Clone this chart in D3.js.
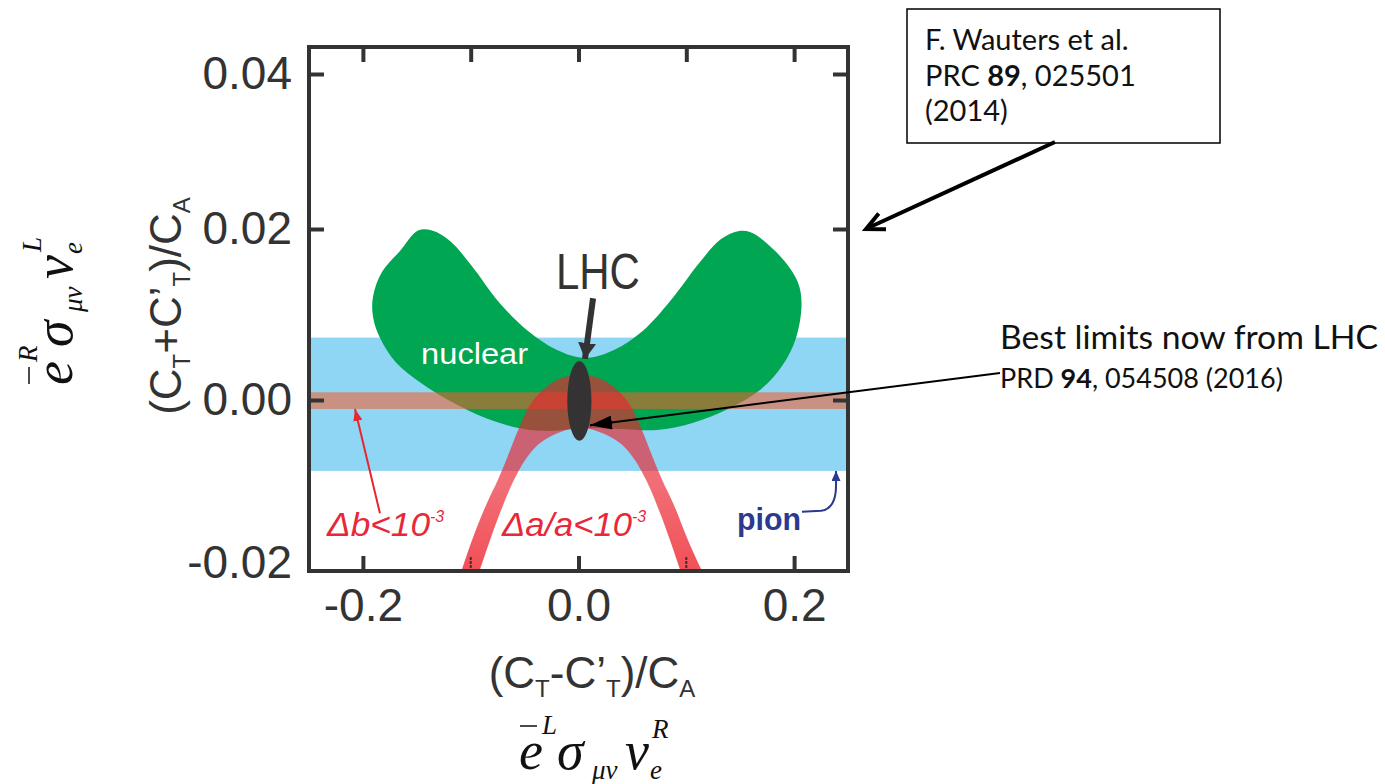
<!DOCTYPE html>
<html>
<head>
<meta charset="utf-8">
<script src="https://cdn.jsdelivr.net/npm/d3@7"></script>
<style>
  body { margin: 0; background: #fff; }
  svg { display: block; }
</style>
</head>
<body>
<svg id="chart" width="1385" height="784"></svg>
<script>
// ---- values ----
const xTickValues = [-0.2, 0.0, 0.2];
const xFrameTicks = [-0.2, -0.1, 0.0, 0.1, 0.2];
const yTickValues = [0.04, 0.02, 0.00, -0.02];
const yFrameTicks = [0.04, 0.02, 0.00];

// pion band and Delta b band (y ranges, full width)
const pionBand = [-0.0087, 0.0073];
const bBand = [-0.0011, 0.0009];

// "nuclear" allowed region outline [x, y]
const nuclear = [
  [-0.1906, 0.01211], [-0.1906, 0.00971], [-0.1841, 0.00725], [-0.1693, 0.00439],
  [-0.1461, 0.00199], [-0.1192, -0.00012], [-0.0863, -0.00221], [-0.0533, -0.0035],
  [-0.0264, -0.0038], [0.0065, -0.00344], [0.0394, -0.00356], [0.0728, -0.00368],
  [0.1058, -0.00282], [0.1387, -0.0011], [0.1684, 0.00117], [0.1888, 0.00398],
  [0.2018, 0.00725], [0.2069, 0.01129], [0.2036, 0.01373], [0.1916, 0.01616],
  [0.1721, 0.0186], [0.1591, 0.01965], [0.1489, 0.01977], [0.1322, 0.01883],
  [0.1127, 0.01614], [0.0858, 0.0117], [0.0595, 0.00807], [0.0329, 0.00585],
  [0.0065, 0.00491], [-0.0199, 0.00585], [-0.0468, 0.00807], [-0.0728, 0.01129],
  [-0.0997, 0.01579], [-0.1192, 0.0186], [-0.1359, 0.01982], [-0.1489, 0.01982],
  [-0.1656, 0.01743], [-0.1823, 0.01497]
];

// Delta a / a band: outer and inner edges [x, y]
const aOuter = [
  [-0.1099, -0.0215], [-0.0988, -0.0172], [-0.0858, -0.0129], [-0.0747, -0.0098],
  [-0.0654, -0.0068], [-0.0561, -0.0037], [-0.045, -0.0006], [-0.0311, 0.0014],
  [-0.0153, 0.0026], [0.0014, 0.0029], [0.0181, 0.0026], [0.0339, 0.0014],
  [0.0478, -0.0006], [0.0589, -0.0037], [0.0682, -0.0068], [0.0775, -0.0098],
  [0.0886, -0.0129], [0.1016, -0.0172], [0.1164, -0.0215]
];
const aInner = [
  [-0.0932, -0.0215], [-0.0821, -0.0172], [-0.07, -0.0129], [-0.0598, -0.0098],
  [-0.0496, -0.0074], [-0.0376, -0.0055], [-0.0218, -0.0042], [0.0014, -0.0034],
  [0.0246, -0.0042], [0.0404, -0.0055], [0.0524, -0.0074], [0.0626, -0.0098],
  [0.0728, -0.0129], [0.0849, -0.0172], [0.096, -0.0215]
];

// LHC ellipse: centre and half widths
const lhc = { cx: 0.0008, cy: -0.0001, rx: 0.0112, ry: 0.0049 };

// ---- layout ----
const svg = d3.select("#chart");
const frame = { left: 309, right: 848, top: 47, bottom: 571 };
const ink = "#333";
const sans = "'Liberation Sans', Arial, Helvetica, sans-serif";
const serif = "'Liberation Serif', 'Times New Roman', serif";
const office = "Lato, 'Open Sans', sans-serif";

const x = d3.scaleLinear().domain([-0.25, 0.25]).range([frame.left, frame.right]);
// the printed axis is not quite uniform, so use a piecewise scale through the ticks
const y = d3.scaleLinear().domain([-0.02, 0, 0.02, 0.04]).range([563, 400, 229, 74]);

const defs = svg.append("defs");
defs.append("clipPath").attr("id", "plotClip")
  .append("rect")
  .attr("x", frame.left).attr("y", frame.top)
  .attr("width", frame.right - frame.left).attr("height", frame.bottom - frame.top);

const grad = defs.append("linearGradient").attr("id", "redGrad")
  .attr("x1", 0).attr("y1", 0).attr("x2", 0).attr("y2", 1);
grad.append("stop").attr("offset", "0%").attr("stop-color", "rgb(235,35,47)").attr("stop-opacity", 0.64);
grad.append("stop").attr("offset", "55%").attr("stop-color", "rgb(235,35,47)").attr("stop-opacity", 0.66);
grad.append("stop").attr("offset", "100%").attr("stop-color", "rgb(238,40,48)").attr("stop-opacity", 0.82);

function arrowMarker(id, color, len, wid) {
  defs.append("marker").attr("id", id)
    .attr("markerUnits", "userSpaceOnUse")
    .attr("viewBox", `0 ${-wid / 2} ${len} ${wid}`)
    .attr("refX", len).attr("refY", 0)
    .attr("markerWidth", len).attr("markerHeight", wid)
    .attr("orient", "auto")
    .append("path")
    .attr("d", `M0,${-wid / 2}L${len},0L0,${wid / 2}Z`)
    .attr("fill", color);
}
arrowMarker("headDark", ink, 16, 18);
arrowMarker("headBlack", "#000", 22, 14);
arrowMarker("headRed", "#e8262e", 12, 9);
arrowMarker("headNavy", "#2b3990", 10, 9);

const plot = svg.append("g").attr("clip-path", "url(#plotClip)");

// pion band
plot.append("rect")
  .attr("x", x(-0.25)).attr("width", x(0.25) - x(-0.25))
  .attr("y", y(pionBand[1])).attr("height", y(pionBand[0]) - y(pionBand[1]))
  .attr("fill", "#8fd6f4");

// nuclear region
const smooth = d3.line().x(d => x(d[0])).y(d => y(d[1]));
plot.append("path")
  .attr("d", smooth.curve(d3.curveCatmullRomClosed.alpha(0.5))(nuclear))
  .attr("fill", "#00a651");

// Delta b band
plot.append("rect")
  .attr("x", x(-0.25)).attr("width", x(0.25) - x(-0.25))
  .attr("y", y(bBand[1])).attr("height", y(bBand[0]) - y(bBand[1]))
  .attr("fill", "rgb(242,94,42)").attr("fill-opacity", 0.57);

// Delta a / a arch
const edge = d3.line().x(d => x(d[0])).y(d => y(d[1])).curve(d3.curveCatmullRom.alpha(0.5));
const archPath = edge(aOuter) + "L" + edge(aInner.slice().reverse()).slice(1) + "Z";
plot.append("path").attr("d", archPath).attr("fill", "url(#redGrad)");

// LHC ellipse
plot.append("ellipse")
  .attr("cx", x(lhc.cx)).attr("cy", y(lhc.cy))
  .attr("rx", x(lhc.cx + lhc.rx) - x(lhc.cx))
  .attr("ry", y(lhc.cy - lhc.ry) - y(lhc.cy))
  .attr("fill", "#353233");

// ---- frame and axes ----
svg.append("rect")
  .attr("x", frame.left).attr("y", frame.top)
  .attr("width", frame.right - frame.left).attr("height", frame.bottom - frame.top)
  .attr("fill", "none").attr("stroke", ink).attr("stroke-width", 4);

function styleAxis(g) {
  g.select(".domain").remove();
  g.selectAll(".tick line").attr("stroke", ink).attr("stroke-width", 4);
  g.selectAll(".tick text")
    .attr("fill", ink).attr("font-family", sans).attr("font-size", 46);
}

svg.append("g").attr("transform", `translate(${frame.left},0)`)
  .call(d3.axisLeft(y).tickValues(yTickValues).tickSize(-15).tickPadding(17)
    .tickFormat(d => d.toFixed(2)))
  .call(styleAxis)
  .call(g => g.selectAll(".tick").filter(d => d === -0.02).select("line").remove());

svg.append("g").attr("transform", `translate(${frame.right},0)`)
  .call(d3.axisRight(y).tickValues(yFrameTicks).tickSize(-15).tickFormat(""))
  .call(styleAxis);

svg.append("g").attr("transform", `translate(0,${frame.top})`)
  .call(d3.axisTop(x).tickValues(xFrameTicks).tickSize(-15).tickFormat(""))
  .call(styleAxis);

svg.append("g").attr("transform", `translate(0,${frame.bottom})`)
  .call(d3.axisBottom(x).tickValues(xTickValues).tickSize(-15).tickPadding(17)
    .tickFormat(d => d.toFixed(1)))
  .call(styleAxis);

// small marks at +-0.1 on the bottom edge
svg.append("g").selectAll("line").data([-0.1, 0.1]).join("line")
  .attr("x1", d => x(d)).attr("x2", d => x(d))
  .attr("y1", frame.bottom - 14).attr("y2", frame.bottom)
  .attr("stroke", ink).attr("stroke-width", 2).attr("stroke-dasharray", "3,1");

// ---- labels inside the plot ----
svg.append("text")
  .attr("x", x(0.018)).attr("y", y(0.013))
  .attr("text-anchor", "middle").attr("font-family", sans).attr("font-size", 50)
  .attr("textLength", 84).attr("lengthAdjust", "spacingAndGlyphs")
  .attr("fill", ink).text("LHC");

svg.append("line")
  .attr("x1", x(0.0135)).attr("y1", y(0.0119))
  .attr("x2", x(0.006)).attr("y2", y(0.0048))
  .attr("stroke", ink).attr("stroke-width", 6).attr("marker-end", "url(#headDark)");

svg.append("text")
  .attr("x", x(-0.146)).attr("y", y(0.0042))
  .attr("font-family", sans).attr("font-size", 29)
  .attr("textLength", 107).attr("lengthAdjust", "spacingAndGlyphs")
  .attr("fill", "#fff").text("nuclear");

function powerLabel(px, py, base, width) {
  const t = svg.append("text")
    .attr("x", px).attr("y", py)
    .attr("font-family", sans).attr("font-size", 33).attr("font-style", "italic")
    .attr("fill", "#e8283a");
  t.append("tspan").attr("textLength", width).attr("lengthAdjust", "spacingAndGlyphs").text(base);
  t.append("tspan").attr("dy", -14).attr("font-size", 16).text("-3");
  return t;
}
powerLabel(x(-0.2333), y(-0.0167), "Δb<10", 103);
powerLabel(x(-0.071), y(-0.0167), "Δa/a<10", 130);

svg.append("line")
  .attr("x1", x(-0.1842)).attr("y1", y(-0.0139))
  .attr("x2", x(-0.2073)).attr("y2", y(-0.0011))
  .attr("stroke", "#e8262e").attr("stroke-width", 2).attr("marker-end", "url(#headRed)");

svg.append("text")
  .attr("x", x(0.147)).attr("y", y(-0.016))
  .attr("font-family", sans).attr("font-size", 31).attr("font-weight", "bold")
  .attr("textLength", 64).attr("lengthAdjust", "spacingAndGlyphs")
  .attr("fill", "#2b3990").text("pion");

const pionArrow = d3.path();
pionArrow.moveTo(x(0.2073), y(-0.0137));
pionArrow.lineTo(x(0.225), y(-0.0136));
pionArrow.bezierCurveTo(x(0.236), y(-0.0134), x(0.2389), y(-0.012), x(0.2389), y(-0.0105));
pionArrow.lineTo(x(0.2389), y(-0.0087));
svg.append("path").attr("d", pionArrow.toString())
  .attr("fill", "none").attr("stroke", "#2b3990").attr("stroke-width", 2)
  .attr("marker-end", "url(#headNavy)");

// ---- axis titles ----
function ratioTitle(g, sign) {
  const t = g.append("text").attr("font-family", sans).attr("font-size", 44)
    .attr("fill", ink).attr("text-anchor", "middle");
  t.append("tspan").text("(C");
  t.append("tspan").attr("font-size", 24).attr("dy", 9).text("T");
  t.append("tspan").attr("dy", -9).text(sign + "C’");
  t.append("tspan").attr("font-size", 24).attr("dy", 9).text("T");
  t.append("tspan").attr("dy", -9).text(")/C");
  t.append("tspan").attr("font-size", 24).attr("dy", 9).text("A");
  return t;
}
ratioTitle(svg.append("g").attr("transform", "translate(592,688)"), "-");
ratioTitle(svg.append("g").attr("transform", "translate(181,306) rotate(-90)"), "+");

function tensorTitle(g, chiE, chiNu) {
  const big = 54, small = 27;
  const add = (txt, dx, dy, size) => g.append("text")
    .attr("x", dx).attr("y", dy)
    .attr("font-family", serif).attr("font-style", "italic")
    .attr("font-size", size).attr("fill", "#111").text(txt);
  add("e", 0, 0, big);
  // the bar over the electron field
  g.append("line").attr("x1", 1).attr("x2", 18).attr("y1", -43).attr("y2", -43)
    .attr("stroke", "#111").attr("stroke-width", 1.5);
  add(chiE, 23, -35, small);
  add("σ", 38, 0, big);
  add("μν", 73, 10, small);
  add("ν", 106, 0, big);
  add(chiNu, 133, -31, small);
  add("e", 131, 10, small);
}
tensorTitle(svg.append("g").attr("transform", "translate(519,769)"), "L", "R");
tensorTitle(svg.append("g").attr("transform", "translate(72,385) rotate(-90)"), "R", "L");

// ---- notes outside the plot ----
svg.append("rect")
  .attr("x", 907).attr("y", 9).attr("width", 313).attr("height", 134)
  .attr("fill", "#fff").attr("stroke", "#000").attr("stroke-width", 1.5);

const boxText = svg.append("text").attr("font-family", office).attr("font-size", 29).attr("fill", "#111");
boxText.append("tspan").attr("x", 925).attr("y", 50).text("F. Wauters et al.");
const l2 = boxText.append("tspan").attr("x", 925).attr("y", 86);
l2.append("tspan").text("PRC ");
l2.append("tspan").attr("font-weight", "bold").text("89");
l2.append("tspan").text(", 025501");
boxText.append("tspan").attr("x", 925).attr("y", 121).text("(2014)");

// arrow from the box to the plot (open head)
const bx1 = 1055, by1 = 142, bx2 = 866, by2 = 229;
svg.append("line").attr("x1", bx1).attr("y1", by1).attr("x2", bx2 + 3).attr("y2", by2 - 1.5)
  .attr("stroke", "#000").attr("stroke-width", 4);
const ang = Math.atan2(by1 - by2, bx1 - bx2);
const head = d3.path();
head.moveTo(bx2 + 20 * Math.cos(ang - 0.45), by2 + 20 * Math.sin(ang - 0.45));
head.lineTo(bx2, by2);
head.lineTo(bx2 + 20 * Math.cos(ang + 0.45), by2 + 20 * Math.sin(ang + 0.45));
svg.append("path").attr("d", head.toString()).attr("fill", "none")
  .attr("stroke", "#000").attr("stroke-width", 4).attr("stroke-linejoin", "miter");

svg.append("text").attr("x", 1000).attr("y", 349)
  .attr("font-family", office).attr("font-size", 32).attr("fill", "#111")
  .attr("textLength", 378).attr("lengthAdjust", "spacingAndGlyphs")
  .text("Best limits now from LHC");
const prd = svg.append("text").attr("x", 1000).attr("y", 388)
  .attr("font-family", office).attr("font-size", 27).attr("fill", "#111");
prd.append("tspan").text("PRD ");
prd.append("tspan").attr("font-weight", "bold").text("94");
prd.append("tspan").text(", 054508 (2016)");

svg.append("line")
  .attr("x1", 1000).attr("y1", 373)
  .attr("x2", x(0.0107)).attr("y2", y(-0.0031))
  .attr("stroke", "#000").attr("stroke-width", 2).attr("marker-end", "url(#headBlack)");
</script>
</body>
</html>
